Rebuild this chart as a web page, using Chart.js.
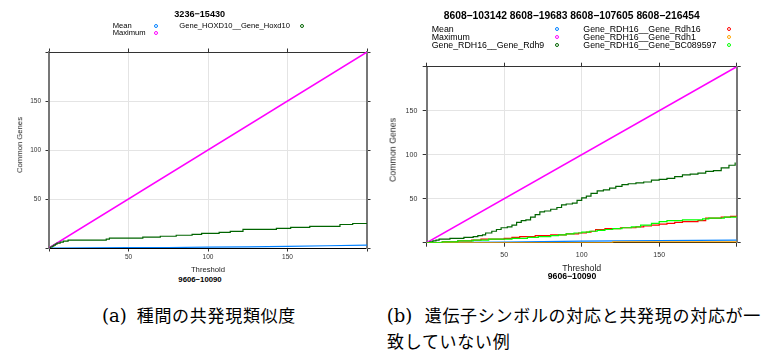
<!DOCTYPE html>
<html><head><meta charset="utf-8">
<script src="https://cdn.jsdelivr.net/npm/chart.js@4.4.0/dist/chart.umd.min.js"></script>
<style>
html,body{margin:0;padding:0;background:#fff;}
#page{position:relative;width:765px;height:351px;overflow:hidden;font-family:"Liberation Sans",Arial,Helvetica,sans-serif;color:#000;}
.t{position:absolute;white-space:nowrap;line-height:1;}
.c{transform:translate(-50%,-50%);}
.l{transform:translateY(-50%);}
.r{transform:translate(-50%,-50%) rotate(-90deg);}
.mk{position:absolute;width:2px;height:2px;border:1px solid;border-radius:50%;transform:translate(-50%,-50%);}
canvas{position:absolute;}
.cap{position:absolute;white-space:nowrap;line-height:1;transform:translateY(-50%);font-family:"Noto Sans CJK JP",sans-serif;font-size:17px;letter-spacing:0.7px;}
.cap .p{display:inline-block;font-family:"DejaVu Serif","Liberation Serif",serif;font-size:18px;letter-spacing:0;}
</style></head>
<body><div id="page">
<canvas id="ca" width="385" height="275" style="left:0;top:0;width:385px;height:275px"></canvas>
<canvas id="cb" width="380" height="274" style="left:385px;top:0;width:380px;height:274px"></canvas>

<div class="t c" style="left:199.7px;top:15px;font-weight:bold;font-size:9.1px">3236−15430</div>
<div class="t l" style="left:112.7px;top:26px;font-size:7.6px">Mean</div>
<div class="t l" style="left:112.7px;top:33.3px;font-size:7.6px">Maximum</div>
<div class="t l" style="left:179.3px;top:26px;font-size:7.6px">Gene_HOXD10__Gene_Hoxd10</div>
<span class="mk" style="left:155.7px;top:25.5px;border-color:#0080ff"></span>
<span class="mk" style="left:155.7px;top:33px;border-color:#ff00ff"></span>
<span class="mk" style="left:302px;top:25.5px;border-color:#006400"></span>
<div class="t r" style="left:20px;top:145px;font-size:7.7px;color:#222">Common Genes</div>
<div class="t c" style="left:200px;top:280px;font-weight:bold;font-size:7.75px">9606−10090</div>

<div class="t c" style="left:571.7px;top:16px;font-weight:bold;font-size:10.3px">8608−103142 8608−19683 8608−107605 8608−216454</div>
<div class="t l" style="left:431.7px;top:29px;font-size:8.8px">Mean</div>
<div class="t l" style="left:431.7px;top:37px;font-size:8.8px">Maximum</div>
<div class="t l" style="left:431.7px;top:45px;font-size:8.8px">Gene_RDH16__Gene_Rdh9</div>
<div class="t l" style="left:583.3px;top:29px;font-size:8.8px">Gene_RDH16__Gene_Rdh16</div>
<div class="t l" style="left:583.3px;top:37px;font-size:8.8px">Gene_RDH16__Gene_Rdh1</div>
<div class="t l" style="left:583.3px;top:45px;font-size:8.8px">Gene_RDH16__Gene_BC089597</div>
<span class="mk" style="left:556.7px;top:28.5px;border-color:#0080ff"></span>
<span class="mk" style="left:556.7px;top:36.5px;border-color:#ff00ff"></span>
<span class="mk" style="left:556.7px;top:44.5px;border-color:#006400"></span>
<span class="mk" style="left:729px;top:28.5px;border-color:#ff0000"></span>
<span class="mk" style="left:729px;top:36.5px;border-color:#ffa500"></span>
<span class="mk" style="left:729px;top:44.5px;border-color:#00ff00"></span>
<div class="t r" style="left:393px;top:150px;font-size:8.8px;color:#222">Common Genes</div>
<div class="t c" style="left:572px;top:276px;font-weight:bold;font-size:8.7px">9606−10090</div>

<div class="cap" style="left:102px;top:315px"><span class="p" style="width:34.7px">(a) </span>種間の共発現類似度</div>
<div class="cap" style="left:386.7px;top:314.5px"><span class="p" style="width:38px">(b) </span>遺伝子シンボルの対応と共発現の対応が一</div>
<div class="cap" style="left:387px;top:340px">致していない例</div>
</div>
<script>
// ---- Panel (a) data ----
const aMaxX = [0, 200];
const aMaxY = [0, 200];
const aMeanX = [0, 25, 50, 75, 100, 125, 150, 175, 200];
const aMeanY = [0, 0.1, 0.3, 0.5, 0.8, 1.2, 1.7, 2.3, 3.0];
const aHoxX = [0, 1, 2, 3, 4, 5, 7, 9, 12, 36, 38, 59, 70, 80, 90, 96, 107, 114, 122, 143, 152, 164, 183, 191, 200];
const aHoxY = [0, 1, 2, 3, 4, 5, 6, 7, 8, 9, 10, 11, 12, 13, 14, 15, 16, 17, 19, 20, 21, 22, 24, 25, 25];

// ---- Panel (b) data ----
const bMaxX = [0, 200];
const bMaxY = [0, 200];
const bMeanX = [0, 25, 50, 75, 100, 125, 150, 175, 200];
const bMeanY = [0, 0.4, 0.8, 1.2, 1.7, 2.0, 2.4, 2.7, 3.0];
const bRdh9X = [0, 2, 4, 6, 8, 15, 24, 30, 33, 36, 38, 42, 45, 48, 52, 55, 58, 61, 64, 67, 70, 73, 76, 80, 84, 87, 90, 94, 97, 100, 103, 106, 110, 114, 118, 122, 126, 130, 135, 140, 145, 150, 155, 160, 165, 170, 175, 180, 185, 190, 195, 199];
const bRdh9Y = [0, 1, 2, 3, 4, 5, 6, 7, 8, 9, 11, 13, 15, 17, 18, 20, 23, 25, 26, 29, 32, 35, 36, 38, 40, 43, 44, 45, 48, 51, 53, 56, 59, 60, 62, 64, 66, 67, 68, 69, 71, 72, 73, 75, 77, 78, 79, 81, 82, 85, 88, 91];
const bRdh16X = [0, 10, 20, 29, 35, 50, 55, 60, 70, 80, 90, 98, 103, 106, 109, 115, 125, 135, 140, 145, 150, 155, 160, 165, 175, 180, 190, 196, 200];
const bRdh16Y = [0, 1, 2, 3, 4, 5, 6, 7, 8, 9, 10, 11, 12, 13, 15, 16, 17, 18, 19, 20, 21, 22, 23, 24, 25, 28, 29, 30, 31];
const bRdh1X = [0, 120, 200];
const bRdh1Y = [0, 1, 1];
const bBcX = [0, 10, 20, 30, 40, 55, 65, 72, 80, 85, 90, 95, 100, 105, 110, 115, 120, 126, 132, 138, 145, 150, 155, 165, 178, 182, 192, 200];
const bBcY = [0, 1, 2, 3, 4, 5, 6, 7, 8, 9, 10, 11, 12, 13, 14, 15, 16, 17, 18, 20, 22, 24, 25, 26, 27, 28, 29, 30];

// axis settings
const axisMin = 0, axisMax = 200, axisStep = 50;
const hiddenTickValues = [0, 200];

const pts = (xs, ys) => xs.map((x, i) => ({x: x, y: ys[i]}));

function line(label, xs, ys, color, width, stepped, order) {
  return {label, data: pts(xs, ys), borderColor: color, backgroundColor: color,
    borderWidth: width, pointRadius: 0, stepped: stepped, fill: false, order: order, tension: 0};
}

function scales(g) {
  const tickCb = v => hiddenTickValues.includes(v) ? '' : String(v);
  const gridColor = ctx => (ctx.tick && hiddenTickValues.includes(ctx.tick.value)) ? 'rgba(0,0,0,0)' : '#e4e4e4';
  const base = {type: 'linear', min: axisMin, max: axisMax};
  return {
    x: Object.assign({}, base, {position: 'bottom',
      ticks: {stepSize: axisStep, callback: tickCb, autoSkip: false, maxRotation: 0, color: '#333', font: {size: g.tickFont, family: 'Liberation Sans'}, padding: g.xPad},
      grid: {color: gridColor, tickColor: '#333', tickLength: g.tl, lineWidth: 1},
      border: {color: '#000', width: 1},
      title: {display: true, text: 'Threshold', color: '#222', font: {size: g.titleFont, family: 'Liberation Sans'}, padding: 0},
      afterFit: s => { s.height = g.bottom; }}),
    y: Object.assign({}, base, {position: 'left',
      ticks: {stepSize: axisStep, callback: tickCb, autoSkip: false, color: '#333', font: {size: g.tickFont, family: 'Liberation Sans'}, padding: g.yPad},
      grid: {color: gridColor, tickColor: '#333', tickLength: g.tl, lineWidth: 1},
      border: {color: '#777', width: 2},
      afterFit: s => { s.width = g.left; }}),
    x2: Object.assign({}, base, {position: 'top',
      ticks: {stepSize: axisStep, display: false},
      grid: {drawOnChartArea: false, tickColor: '#333', tickLength: g.tl},
      border: {color: '#333', width: 1},
      afterFit: s => { s.height = g.top; }}),
    y2: Object.assign({}, base, {position: 'right',
      ticks: {stepSize: axisStep, display: false},
      grid: {drawOnChartArea: false, tickColor: '#333', tickLength: g.tl},
      border: {color: '#777', width: 2},
      afterFit: s => { s.width = g.right; }})
  };
}

const common = {responsive: false, animation: false, maintainAspectRatio: false,
  layout: {padding: 0},
  plugins: {legend: {display: false}, tooltip: {enabled: false}, title: {display: false}}};

new Chart(document.getElementById('ca'), {
  type: 'line',
  data: {datasets: [
    line('Mean', aMeanX, aMeanY, '#0080ff', 1.2, false, 3),
    line('Maximum', aMaxX, aMaxY, '#ff00ff', 1.5, false, 2),
    line('Gene_HOXD10__Gene_Hoxd10', aHoxX, aHoxY, '#006400', 1.2, true, 1)
  ]},
  options: Object.assign({}, common, {scales: scales({left: 49, right: 18, top: 52, bottom: 27, tl: 3.5, tickFont: 6.5, titleFont: 7.7, xPad: 2.3, yPad: 4.5})})
});

new Chart(document.getElementById('cb'), {
  type: 'line',
  data: {datasets: [
    line('Mean', bMeanX, bMeanY, '#0080ff', 1.2, false, 6),
    line('Maximum', bMaxX, bMaxY, '#ff00ff', 1.5, false, 5),
    line('Gene_RDH16__Gene_Rdh9', bRdh9X, bRdh9Y, '#006400', 1.2, true, 4),
    line('Gene_RDH16__Gene_Rdh16', bRdh16X, bRdh16Y, '#ff0000', 1.2, true, 3),
    line('Gene_RDH16__Gene_Rdh1', bRdh1X, bRdh1Y, '#ffa500', 1.2, true, 2),
    line('Gene_RDH16__Gene_BC089597', bBcX, bBcY, '#00ff00', 1.2, true, 1)
  ]},
  options: Object.assign({}, common, {scales: scales({left: 41.7, right: 28.3, top: 66.7, bottom: 31.3, tl: 4, tickFont: 7, titleFont: 8.8, xPad: 4.6, yPad: 5.4})})
});
</script>
</body></html>
